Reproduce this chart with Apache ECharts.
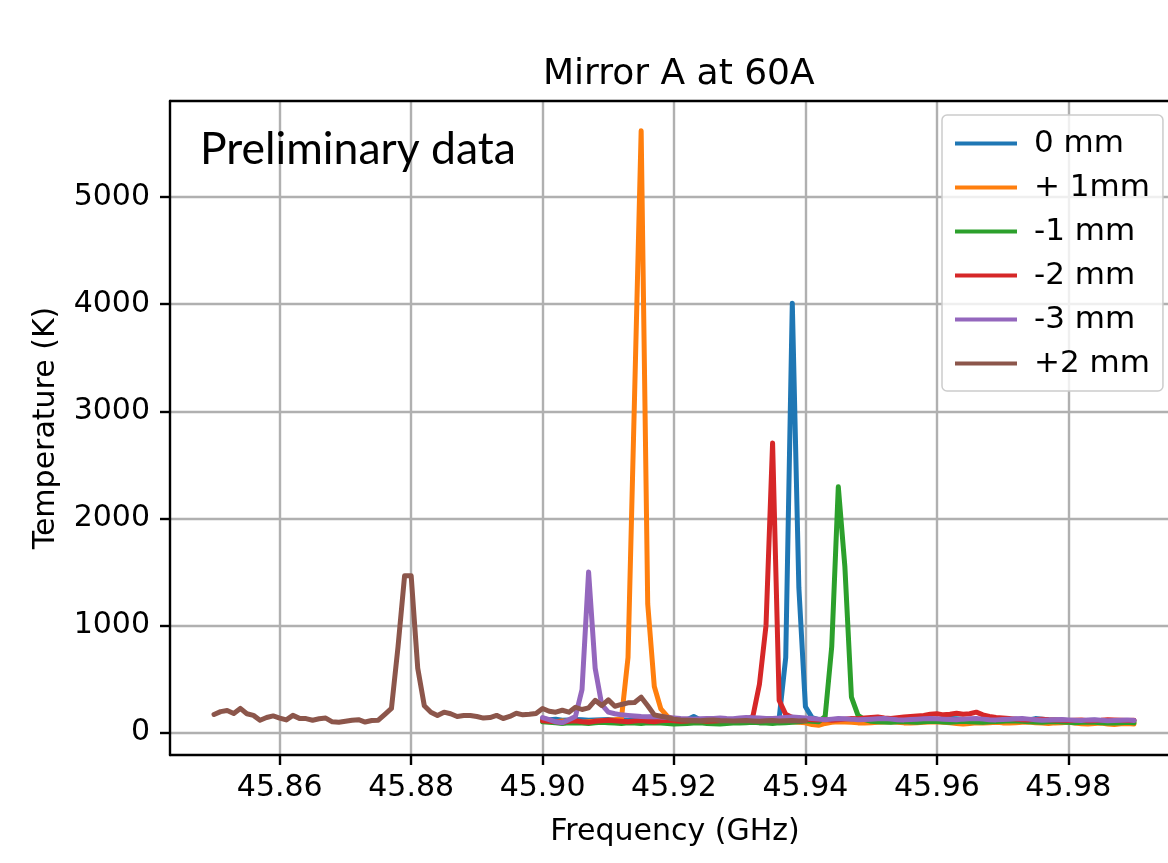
<!DOCTYPE html>
<html>
<head>
<meta charset="utf-8">
<script src="https://cdn.jsdelivr.net/npm/echarts@6/dist/echarts.min.js"></script>
<style>
html,body{margin:0;padding:0;background:#fff;}
#chart{width:1168px;height:863px;}
</style>
</head>
<body>
<div id="chart"></div>
<script>
// ---- Data ----
const seriesNames = ['0 mm', '+ 1mm', '-1 mm', '-2 mm', '-3 mm', '+2 mm'];
const seriesColors = ['#1f77b4', '#ff7f0e', '#2ca02c', '#d62728', '#9467bd', '#8c564b'];

const xTickValues = [45.86, 45.88, 45.90, 45.92, 45.94, 45.96, 45.98];
const yTickValues = [0, 1000, 2000, 3000, 4000, 5000];

// frequency grid (GHz) for the five 45.90-45.99 sweeps
const freqMain = [
45.900,45.901,45.902,45.903,45.904,45.905,45.906,45.907,45.908,45.909,
45.910,45.911,45.912,45.913,45.914,45.915,45.916,45.917,45.918,45.919,
45.920,45.921,45.922,45.923,45.924,45.925,45.926,45.927,45.928,45.929,
45.930,45.931,45.932,45.933,45.934,45.935,45.936,45.937,45.938,45.939,
45.940,45.941,45.942,45.943,45.944,45.945,45.946,45.947,45.948,45.949,
45.950,45.951,45.952,45.953,45.954,45.955,45.956,45.957,45.958,45.959,
45.960,45.961,45.962,45.963,45.964,45.965,45.966,45.967,45.968,45.969,
45.970,45.971,45.972,45.973,45.974,45.975,45.976,45.977,45.978,45.979,
45.980,45.981,45.982,45.983,45.984,45.985,45.986,45.987,45.988,45.989,45.990];

// frequency grid (GHz) for the +2 mm sweep
const freqPlus2 = [
45.850,45.851,45.852,45.853,45.854,45.855,45.856,45.857,45.858,45.859,
45.860,45.861,45.862,45.863,45.864,45.865,45.866,45.867,45.868,45.869,
45.870,45.871,45.872,45.873,45.874,45.875,45.876,45.877,45.878,45.879,
45.880,45.881,45.882,45.883,45.884,45.885,45.886,45.887,45.888,45.889,
45.890,45.891,45.892,45.893,45.894,45.895,45.896,45.897,45.898,45.899,
45.900,45.901,45.902,45.903,45.904,45.905,45.906,45.907,45.908,45.909,
45.910,45.911,45.912,45.913,45.914,45.915,45.916,45.917,45.918,45.919,
45.920,45.921,45.922,45.923,45.924,45.925,45.926,45.927,45.928,45.929,
45.930,45.931,45.932,45.933,45.934,45.935,45.936,45.937,45.938,45.939,45.940];

const temp0mm = [
130,120,125,115,118,122,120,115,118,120,
122,118,120,115,118,120,125,122,118,120,
115,118,120,150,118,115,112,118,120,122,
125,120,118,122,125,128,130,700,4010,1350,
240,140,120,115,110,118,120,115,112,110,
115,118,112,110,115,120,118,115,120,118,
122,125,130,128,125,120,118,122,115,112,
118,120,125,115,118,130,125,120,118,115,
112,110,108,112,115,110,108,105,110,112,108];

const tempPlus1mm = [
110,105,100,108,102,98,95,100,105,110,
115,120,130,700,3150,5620,1200,430,220,150,
125,115,110,105,100,98,95,100,105,100,
98,95,100,102,98,95,100,105,100,95,
90,75,68,85,95,100,98,95,90,88,
92,95,98,100,95,90,88,92,95,98,
100,95,90,85,80,85,90,88,92,95,
90,88,92,95,98,92,88,85,90,92,
95,88,82,80,85,88,80,75,82,85,80];

const tempMinus1mm = [
100,95,90,85,90,92,88,85,90,95,
92,88,85,90,88,85,90,92,88,85,
80,82,85,88,90,85,82,80,85,88,
90,92,95,90,88,85,90,92,95,100,
110,105,100,150,800,2295,1550,330,160,120,
105,100,98,95,100,102,98,95,100,105,
102,98,95,100,105,100,98,95,100,102,
105,110,108,105,100,98,95,100,102,98,
95,92,95,98,95,92,90,88,92,95,90];

const tempMinus2mm = [
110,105,100,95,105,110,100,95,105,110,
115,110,105,100,108,112,105,100,110,115,
110,105,108,112,110,105,108,110,112,115,
120,125,150,450,1000,2705,300,170,140,130,
125,120,118,122,115,120,125,130,128,135,
140,145,135,130,138,145,150,155,160,170,
175,165,170,180,170,175,190,165,150,140,
135,130,125,120,118,122,125,120,118,115,
112,115,118,110,112,115,120,118,115,112,115];

const tempMinus3mm = [
140,121,100,92,120,150,400,1500,600,260,
190,175,165,160,155,150,148,150,145,140,
135,130,128,125,128,130,132,135,130,128,
135,140,138,135,130,132,135,140,145,140,
135,130,125,120,125,130,128,125,120,122,
125,128,130,125,120,118,122,125,128,130,
128,125,122,120,125,128,130,125,120,118,
122,125,128,130,125,120,115,118,120,122,
118,115,112,118,120,115,110,112,115,118,112];

const tempPlus2mm = [
168,195,205,177,225,175,160,115,140,155,
135,118,160,132,130,115,128,135,100,96,
105,115,120,98,112,115,170,225,800,1465,
1465,600,250,190,160,190,175,150,158,158,
150,135,140,160,131,150,180,165,170,178,
224,199,190,208,190,236,215,230,301,252,
305,245,262,277,280,330,250,165,152,140,
125,118,115,112,110,115,118,112,110,108,
110,112,108,105,110,112,108,110,112,108,110];

const allTemps = [temp0mm, tempPlus1mm, tempMinus1mm, tempMinus2mm, tempMinus3mm, tempPlus2mm];
const allFreqs = [freqMain, freqMain, freqMain, freqMain, freqMain, freqPlus2];

// ---- Chart ----
const FONT = 'DejaVu Sans';
const X_MIN = 45.8433, X_MAX = 45.997;
const chart = echarts.init(document.getElementById('chart'));

const series = seriesNames.map((name, k) => ({
  name: name,
  type: 'line',
  symbol: 'none',
  showSymbol: false,
  animation: false,
  clip: true,
  color: seriesColors[k],
  lineStyle: { width: 5, color: seriesColors[k], join: 'round', cap: 'round' },
  data: allFreqs[k].map((f, i) => [f, allTemps[k][i]])
}));

chart.setOption({
  backgroundColor: '#ffffff',
  animation: false,
  title: {
    text: 'Mirror A at 60A',
    left: 538,
    top: 52,
    textStyle: { fontFamily: FONT, fontSize: 36, fontWeight: 'normal', color: '#000' }
  },
  legend: {
    left: 942,
    top: 115,
    orient: 'vertical',
    icon: 'rect',
    itemWidth: 62,
    itemHeight: 4,
    itemGap: 13,
    selectedMode: false,
    padding: [13, 13, 12, 13],
    backgroundColor: 'rgba(255,255,255,0.8)',
    borderColor: '#cccccc',
    borderWidth: 1.5,
    borderRadius: 5,
    textStyle: { fontFamily: FONT, fontSize: 31, color: '#000', lineHeight: 31, padding: [0, 0, 0, 12] },
    data: seriesNames
  },
  grid: {
    left: 170,
    top: 101,
    width: 1010,
    height: 654,
    show: false,
    containLabel: false,
    outerBoundsMode: 'none'
  },
  xAxis: [{
    type: 'value',
    min: X_MIN,
    max: X_MAX,
    name: 'Frequency (GHz)',
    nameLocation: 'middle',
    nameGap: 62,
    nameTextStyle: { fontFamily: FONT, fontSize: 30, color: '#000' },
    axisLine: { show: true, onZero: false, lineStyle: { color: '#000', width: 2.4 } },
    axisTick: { show: true, inside: false, length: 10, customValues: xTickValues, lineStyle: { color: '#000', width: 2.4 } },
    axisLabel: {
      customValues: xTickValues,
      margin: 18,
      fontFamily: FONT, fontSize: 30, color: '#000',
      formatter: v => Number(v).toFixed(2)
    },
    splitLine: { show: true, lineStyle: { color: '#b0b0b0', width: 2.4 } }
  }, {
    type: 'value',
    position: 'top',
    min: X_MIN,
    max: X_MAX,
    axisLine: { show: true, onZero: false, lineStyle: { color: '#000', width: 2.4 } },
    axisTick: { show: false },
    axisLabel: { show: false },
    splitLine: { show: false }
  }],
  yAxis: {
    type: 'value',
    min: -210,
    max: 5898,
    name: 'Temperature (K)',
    nameLocation: 'middle',
    nameGap: 109,
    nameTextStyle: { fontFamily: FONT, fontSize: 30, color: '#000' },
    axisLine: { show: true, onZero: false, lineStyle: { color: '#000', width: 2.4 } },
    axisTick: { show: true, inside: false, length: 10, customValues: yTickValues, lineStyle: { color: '#000', width: 2.4 } },
    axisLabel: {
      customValues: yTickValues,
      margin: 20,
      fontFamily: FONT, fontSize: 30, color: '#000',
      formatter: v => String(Math.round(v))
    },
    splitLine: { show: true, lineStyle: { color: '#b0b0b0', width: 2.4 } }
  },
  graphic: [{
    type: 'text',
    left: 200,
    top: 127,
    z: 100,
    style: {
      text: 'Preliminary data',
      font: '44.5px Lato',
      fill: '#000'
    }
  }],
  series: series
});
</script>
</body>
</html>
